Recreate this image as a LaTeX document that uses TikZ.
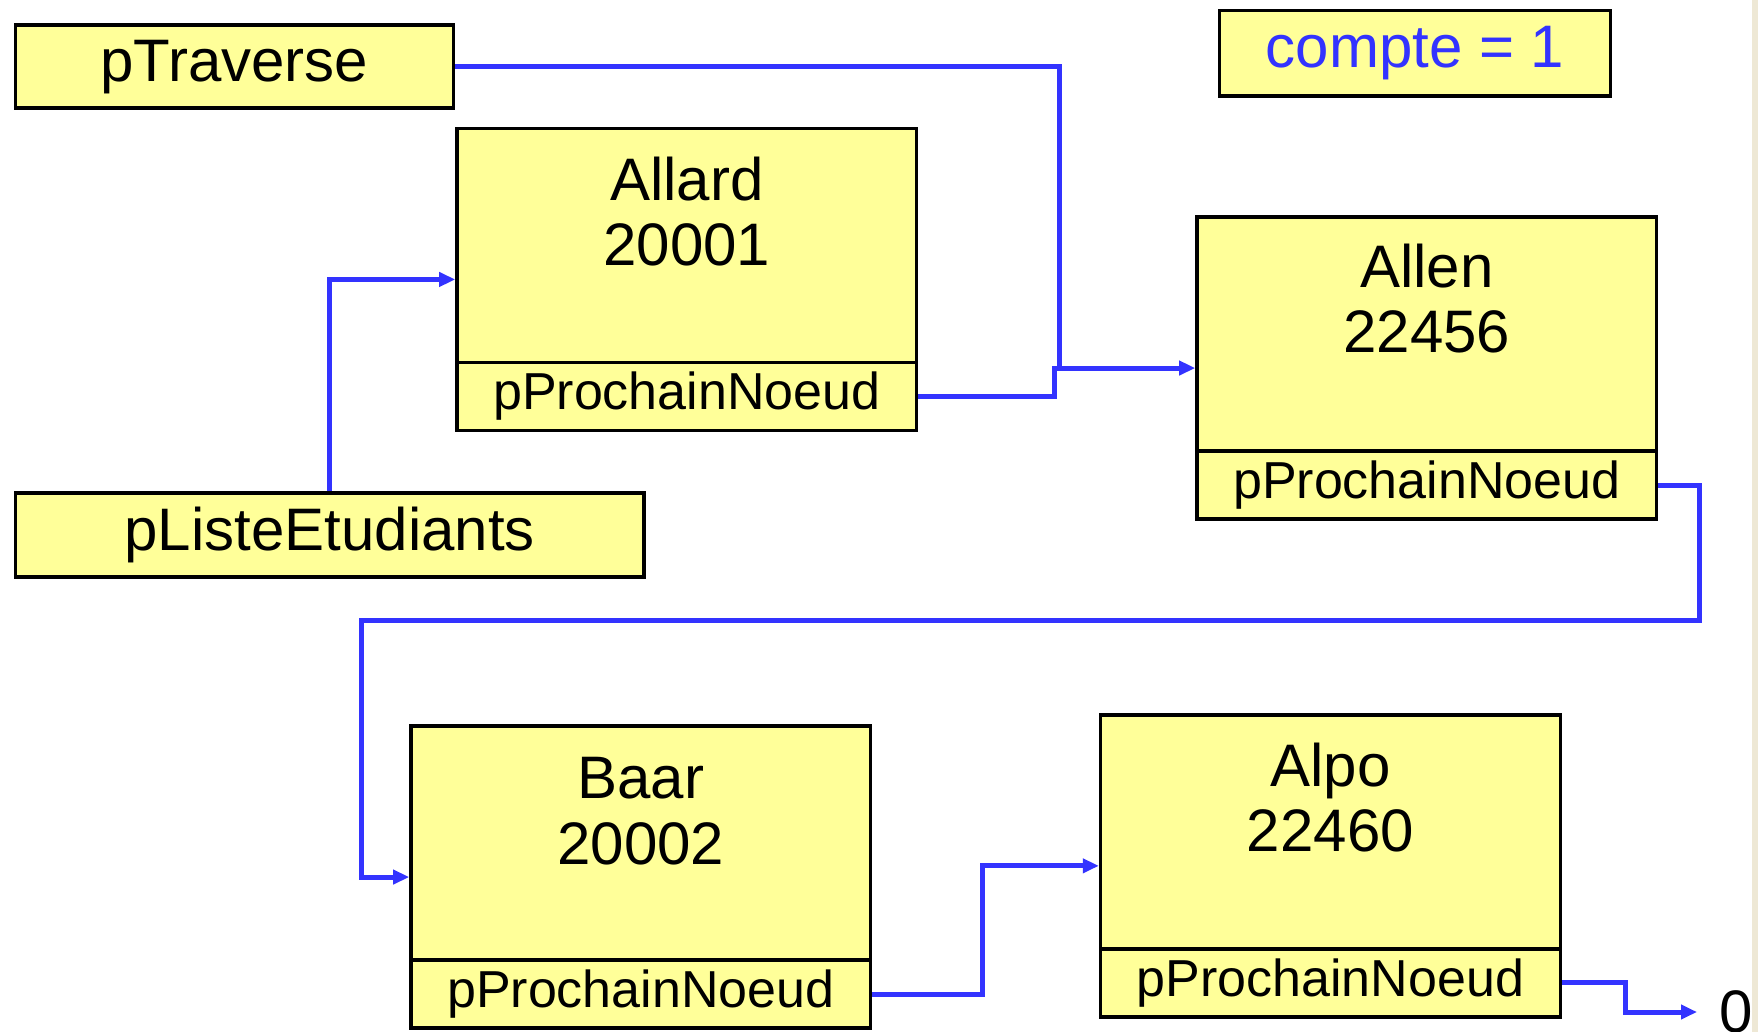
\documentclass[tikz,border=0pt]{standalone}
\usepackage{fontspec}
\setmainfont{Liberation Sans}
\usetikzlibrary{arrows.meta,calc}
\definecolor{boxyellow}{HTML}{FFFF99}
\definecolor{linkblue}{HTML}{3333FF}
\definecolor{edgebeige}{HTML}{EEE8D5}
\tikzset{
  varbox/.style={draw=black, line width=3.5pt, fill=boxyellow, inner sep=0pt, anchor=north west,
    font=\fontsize{60}{66}\selectfont},
  recbox/.style={draw=black, line width=3.5pt, fill=boxyellow, inner sep=0pt, anchor=north west,
    minimum width=459.7pt, minimum height=302pt},
  ptrbox/.style={draw=black, line width=3.5pt, fill=boxyellow, inner sep=0pt, anchor=south west,
    minimum width=459.7pt, minimum height=68pt, font=\fontsize{52}{58}\selectfont},
  rectext/.style={anchor=base, inner sep=0pt, font=\fontsize{60}{66}\selectfont},
  conn/.style={draw=linkblue, line width=5pt, -{Triangle[length=16pt,width=14pt]}},
  connplain/.style={draw=linkblue, line width=5pt},
}
\begin{document}
\begin{tikzpicture}[x=1pt,y=-1pt]
\useasboundingbox (0,0) rectangle (1758,1032);
\fill[edgebeige] (1752,0) rectangle (1758,1032);

% variable boxes
\node[varbox, minimum width=438.3pt, minimum height=83pt] (ptrav) at (13.5,23.5) {pTraverse};
\node[varbox, minimum width=391.3pt, minimum height=85.2pt, text=linkblue] (compte) at (1217.6,9) {compte = 1};
\node[varbox, minimum width=628.9pt, minimum height=84.1pt] (pliste) at (13.5,491.1) {pListeEtudiants};

% records
\node[recbox] (allard) at (455.2,126.7) {};
\node[ptrbox] (allardp) at (allard.south west) {pProchainNoeud};
\node[rectext] (allardn) at ($(allard.north)+(0,73.5)$) {Allard};
\node[rectext] (allardi) at ($(allard.north)+(0,138.5)$) {20001};

\node[recbox] (allen) at (1195.2,215.3) {};
\node[ptrbox] (allenp) at (allen.south west) {pProchainNoeud};
\node[rectext] (allenn) at ($(allen.north)+(0,72)$) {Allen};
\node[rectext] (alleni) at ($(allen.north)+(0,137)$) {22456};

\node[recbox] (baar) at (409.2,724.3) {};
\node[ptrbox] (baarp) at (baar.south west) {pProchainNoeud};
\node[rectext] (baarn) at ($(baar.north)+(0,74)$) {Baar};
\node[rectext] (baari) at ($(baar.north)+(0,140)$) {20002};

\node[recbox] (alpo) at (1098.8,713.1) {};
\node[ptrbox] (alpop) at (alpo.south west) {pProchainNoeud};
\node[rectext] (alpon) at ($(alpo.north)+(0,73)$) {Alpo};
\node[rectext] (alpoi) at ($(alpo.north)+(0,138)$) {22460};

\node[anchor=west, inner xsep=22pt, inner ysep=0pt, font=\fontsize{60}{66}\selectfont] (zero) at (1697,1012) {0};

% junction / corner coordinates
\coordinate (j1) at (allen.west -| 1059.5,0);
\coordinate (j1b) at (allen.west -| 1054,0);
\coordinate (c1) at (1699.7,620);
\coordinate (c2) at (361,620);
\coordinate (c3) at (alpo.west -| 982.2,0);
\coordinate (c4) at (zero.west -| 1625.7,0);

% connectors
\draw[connplain] (allardp.east) -| (j1b) -- (j1);
\draw[conn] (ptrav.east) -| (j1) -- (allen.west);
\draw[conn] (pliste.north) |- (allard.west);
\draw[conn] (allenp.east) -| (c1) -- (c2) |- (baar.west);
\draw[conn] (baarp.east) -| (c3) -- (alpo.west);
\draw[conn] (alpop.east) -| (c4) -- (zero.west);
\end{tikzpicture}
\end{document}
